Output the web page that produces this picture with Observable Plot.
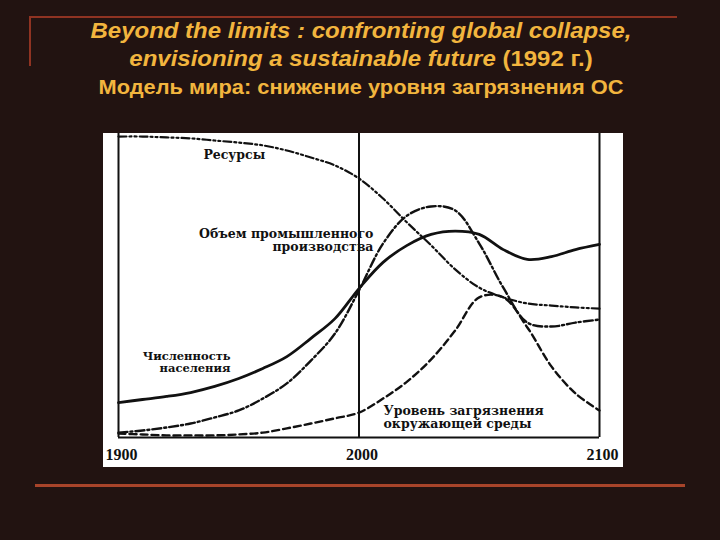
<!DOCTYPE html>
<html>
<head>
<meta charset="utf-8">
<script src="https://cdn.jsdelivr.net/npm/d3@7"></script>
<script src="https://cdn.jsdelivr.net/npm/@observablehq/plot@0.6"></script>
<style>
  html, body { margin: 0; padding: 0; }
  body { width: 720px; height: 540px; background: #221311; position: relative; overflow: hidden; }
  .t { position: absolute; left: 0; width: 722px; text-align: center; color: #f2b53e; line-height: 1;
       font-family: "Liberation Sans", Arial, sans-serif; font-weight: bold; white-space: nowrap;
       transform: scaleX(1.09); transform-origin: 361px 50%; }
  .red { position: absolute; background: #8f3322; }
  #panel { position: absolute; left: 103px; top: 133px; width: 520px; height: 334px; background: #fff; }
</style>
</head>
<body>
<div class="red" style="left:29px; top:16px; width:648px; height:2px;"></div>
<div class="red" style="left:29px; top:16px; width:2px; height:50px;"></div>
<div class="t" style="top:20px; font-size:22px; font-style:italic;">Beyond the limits : confronting global collapse,</div>
<div class="t" style="top:48px; font-size:22px;"><i>envisioning a sustainable future</i> (1992 г.)</div>
<div class="t" style="top:77px; font-size:20px;">Модель мира: снижение уровня загрязнения ОС</div>
<div id="panel"></div>
<div class="red" style="left:35px; top:484px; width:650px; height:3px; background:#a8442a;"></div>
<script>
// Data (relative units, 0 = bottom axis, 100 = top of frame)
const years = [1900,1910,1920,1930,1940,1950,1960,1970,1980,1990,2000,2010,2020,2030,2040,2050,2060,2070,2080,2090,2100];
const resources = [99.0,99.0,98.7,98.4,97.7,97.0,96.1,94.4,92.1,89.5,85.2,78.6,70.7,63.2,55.3,49.3,46.1,44.1,43.4,42.8,42.4];
const industrialOutput = [1.6,2.3,3.3,4.6,6.6,8.9,12.8,17.8,25.3,34.2,48.4,63.8,73.0,76.0,74.7,63.8,49.3,37.8,36.5,37.8,38.8];
const population = [11.5,12.5,13.5,14.8,16.8,19.4,22.7,26.6,32.6,39.1,49.0,57.6,63.2,66.8,67.9,66.8,61.8,58.6,59.5,61.8,63.5];
const pollution = [1.3,1.0,0.7,0.7,0.7,1.0,1.6,3.0,4.6,6.3,8.2,12.8,18.4,25.7,35.2,46.1,46.1,36.2,23.4,14.5,8.9];
const tickYears = [1900, 2000, 2100];
const labelResources = "Ресурсы";
const labelIndustry = "Объем промышленного\nпроизводства";
const labelPopulation = "Численность\nнаселения";
const labelPollution = "Уровень загрязнения\nокружающей среды";

const toRows = (vals) => years.map((year, i) => ({year, value: vals[i]}));

const ink = "#111";
const serif = "DejaVu Serif";

const chart = Plot.plot({
  width: 520,
  height: 334,
  marginLeft: 15,
  marginRight: 24,
  marginTop: 0,
  marginBottom: 30,
  x: {domain: [1900, 2100]},
  y: {domain: [0, 100], axis: null},
  style: {background: "#fff", color: ink, fontFamily: serif, overflow: "visible"},
  marks: [
    Plot.ruleX(tickYears, {stroke: ink, strokeWidth: 2}),
    Plot.ruleY([0], {stroke: ink, strokeWidth: 2.2}),
    Plot.line(toRows(resources), {x: "year", y: "value", curve: "catmull-rom", stroke: ink, strokeWidth: 2.2, strokeDasharray: "8,3,2,3,2,3"}),
    Plot.line(toRows(industrialOutput), {x: "year", y: "value", curve: "catmull-rom", stroke: ink, strokeWidth: 2.4, strokeDasharray: "9,3,2,3"}),
    Plot.line(toRows(pollution), {x: "year", y: "value", curve: "catmull-rom", stroke: ink, strokeWidth: 2.4, strokeDasharray: "7,4"}),
    Plot.line(toRows(population), {x: "year", y: "value", curve: "catmull-rom", stroke: ink, strokeWidth: 2.8}),
    Plot.text([labelResources], {x: 1935.3, y: 92.8, text: d => d, textAnchor: "start", lineAnchor: "middle", fontSize: 12.5, fontWeight: "bold", fill: ink}),
    Plot.text([labelIndustry], {x: 2006, y: 65.0, text: d => d, textAnchor: "end", lineAnchor: "middle", lineHeight: 1.05, fontSize: 12.5, fontWeight: "bold", fill: ink}),
    Plot.text([labelPopulation], {x: 1946.6, y: 24.8, text: d => d, textAnchor: "end", lineAnchor: "middle", lineHeight: 1.0, fontSize: 11.5, fontWeight: "bold", fill: ink}),
    Plot.text([labelPollution], {x: 2010.2, y: 6.6, text: d => d, textAnchor: "start", lineAnchor: "middle", lineHeight: 1.0, fontSize: 12.5, fontWeight: "bold", fill: ink}),
    Plot.axisX({ticks: tickYears, tickSize: 0, tickPadding: 11, dx: 3, tickFormat: d => String(d), fontSize: 16, fontWeight: "bold", fontFamily: "Liberation Serif", fill: ink, label: null})
  ]
});
document.getElementById("panel").appendChild(chart);
</script>
</body>
</html>
